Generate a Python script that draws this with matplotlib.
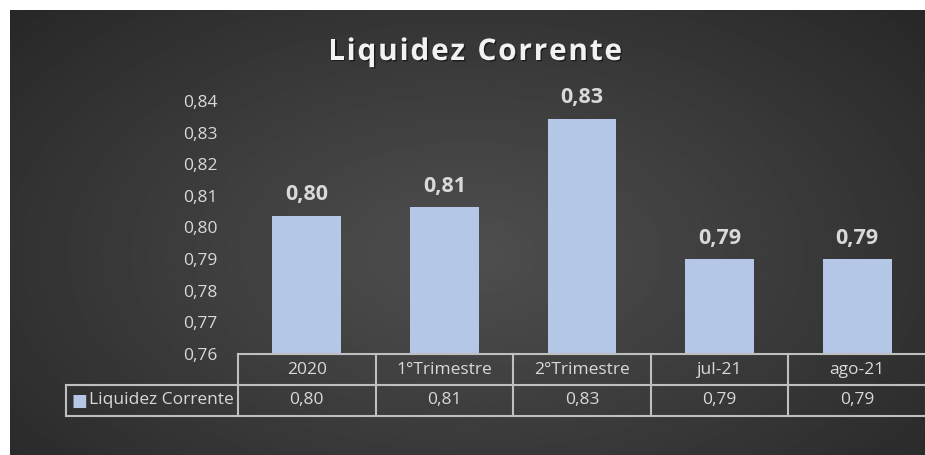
import numpy as np
import matplotlib
matplotlib.use("Agg")
import matplotlib.pyplot as plt
import matplotlib.patheffects as pe

# dados
categorias = ["2020", "1°Trimestre", "2°Trimestre", "jul-21", "ago-21"]
valores = [0.8037, 0.8065, 0.8344, 0.7900, 0.7900]
serie = "Liquidez Corrente"
titulo = "Liquidez Corrente"
yticks = [0.76, 0.77, 0.78, 0.79, 0.80, 0.81, 0.82, 0.83, 0.84]

def fmt(v):
    return "{:.2f}".format(v).replace(".", ",")

plt.rcParams['font.family'] = ['Open Sans', 'DejaVu Sans']
cor_barra = "#b4c7e7"
cor_texto = "#d9d9d9"
cor_linha = "#bfbfbf"

W, H = 925, 455
fig = plt.figure(figsize=(W / 100, H / 100), dpi=100)
fig.patch.set_facecolor("white")

# fundo com degradê radial
bg = fig.add_axes([10 / W, 0, 915 / W, 445 / H])
yy, xx = np.mgrid[0:1:200j, 0:1:400j]
r = np.sqrt(((xx - 0.5) / 0.75) ** 2 + ((yy - 0.55) / 0.9) ** 2)
img = 0.31 - 0.17 * np.clip(r, 0, 1)
bg.imshow(img, cmap="gray", vmin=0, vmax=1, aspect="auto", extent=[0, 1, 0, 1])
bg.set_axis_off()

# gráfico principal
x0, x1 = 238, 926
ax = fig.add_axes([x0 / W, (H - 354) / H, (x1 - x0) / W, 253 / H])
ax.patch.set_alpha(0)
pos = np.arange(len(categorias))
ax.bar(pos, valores, width=0.5, color=cor_barra, zorder=2)
ax.set_xlim(-0.5, len(categorias) - 0.5)
ax.set_ylim(yticks[0], yticks[-1])
ax.set_yticks(yticks)
ax.set_yticklabels([fmt(t) for t in yticks], color=cor_texto, fontsize=12.5)
ax.tick_params(axis="y", length=0, pad=15)
ax.set_xticks([])
for s in ax.spines.values():
    s.set_visible(False)
for p, v in zip(pos, valores):
    ax.text(p, v + 0.0033, fmt(v), ha="center", va="bottom", color=cor_texto,
            fontsize=15.5, fontweight="bold")

# título com espaçamento entre letras
rend = fig.canvas.get_renderer()
tl, tr, ty = 328, 622, H - 52
larg = []
for ch in titulo:
    t = fig.text(0, 0, ch if ch != " " else "i", fontsize=21.5, fontweight="bold")
    larg.append(t.get_window_extent(rend).width)
    t.remove()
esp = (tr - tl - sum(larg)) / (len(titulo) - 1)
xc = tl
sombra = [pe.withSimplePatchShadow(offset=(1, -1), shadow_rgbFace="black", alpha=0.5)]
for ch, w in zip(titulo, larg):
    if ch != " ":
        fig.text(xc / W, ty / H, ch, ha="left", va="center", color="#f2f2f2",
                 fontsize=21.5, fontweight="bold", path_effects=sombra)
    xc += w + esp

# tabela de dados
tax = fig.add_axes([x0 / W, (H - 416) / H, (x1 - x0) / W, 62 / H])
tax.set_xlim(-0.5, len(categorias) - 0.5)
tax.set_ylim(0, 2)
tax.set_axis_off()
tax.patch.set_alpha(0)
leg_x = -0.5 - (x0 - 66) / ((x1 - x0) / len(categorias))
kw = dict(color=cor_linha, lw=1.5, clip_on=False)
tax.plot([-0.5, 4.5], [2, 2], **kw)
tax.plot([leg_x, 4.5], [1, 1], **kw)
tax.plot([leg_x, 4.5], [0, 0], **kw)
tax.plot([leg_x, leg_x], [0, 1], **kw)
for i in range(len(categorias) + 1):
    tax.plot([i - 0.5, i - 0.5], [0, 2], **kw)
for i, (c, v) in enumerate(zip(categorias, valores)):
    tax.text(i, 1.5, c, ha="center", va="center", color=cor_texto, fontsize=12.5)
    tax.text(i, 0.5, fmt(v), ha="center", va="center", color=cor_texto, fontsize=12.5)
tax.text(leg_x + 0.04, 0.5, "\u25a0", ha="left", va="center", color=cor_barra, fontsize=12,
         family="DejaVu Sans")
tax.text(leg_x + 0.17, 0.5, serie, ha="left", va="center", color=cor_texto, fontsize=12.5)

fig.savefig("out.png", dpi=100)
